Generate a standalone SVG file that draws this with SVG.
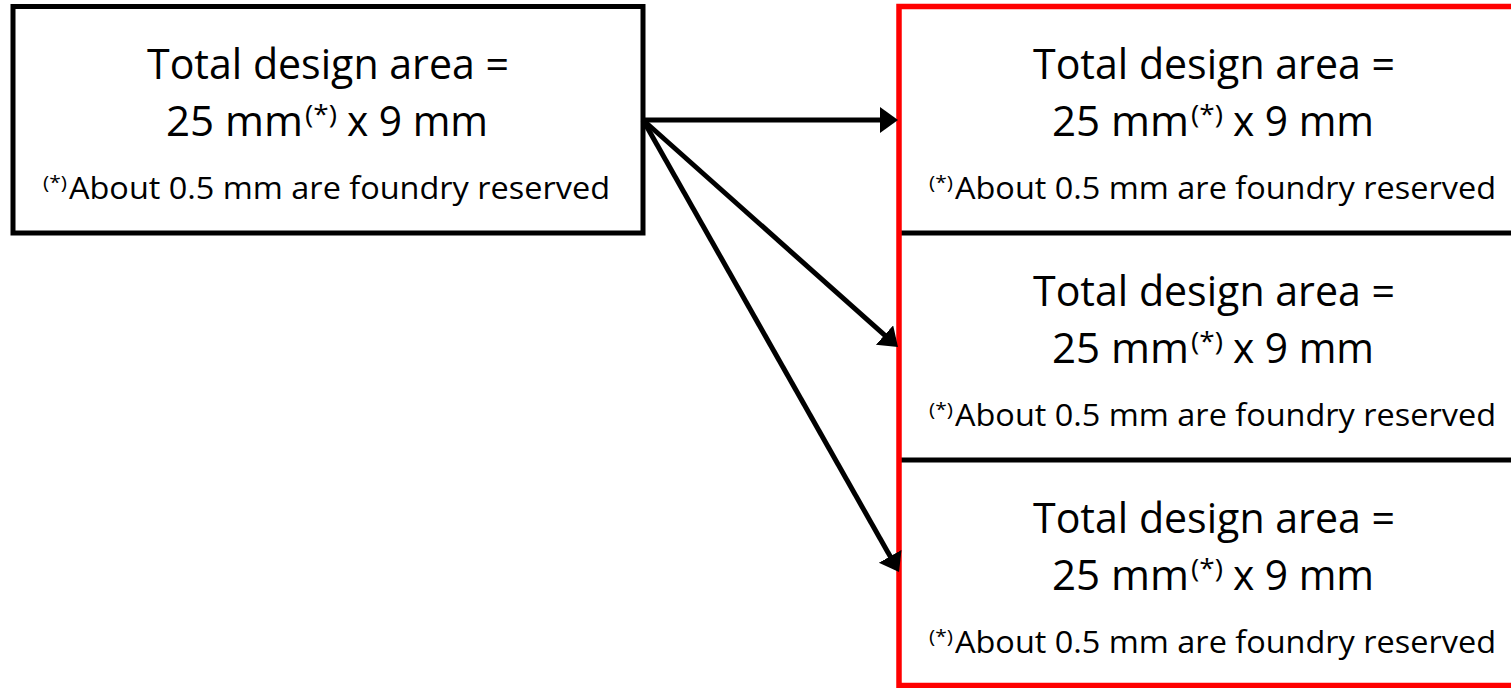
<svg xmlns="http://www.w3.org/2000/svg" width="1511" height="688" viewBox="0 0 1511 688">
  <style>
    .t { font-family: "Open Sans", "Noto Sans", "Liberation Sans", sans-serif; fill: #000; }
    .big { font-size: 42px; }
    .sup { font-size: 25px; }
    .foot { font-size: 31px; }
    .fsup { font-size: 19px; }
    .box { fill: #fff; stroke: #000; stroke-width: 5; }
    .conn { stroke: #000; stroke-width: 5; fill: none; marker-end: url(#arrow); }
    .divider { stroke: #000; stroke-width: 5; }
    .frame { fill: none; stroke: #FF0000; stroke-width: 5.5; }
  </style>
  <defs>
    <marker id="arrow" markerUnits="userSpaceOnUse" markerWidth="20" markerHeight="28" refX="8" refY="13" orient="auto">
      <path d="M0,0 L18,13 L0,26 z" fill="#000"/>
    </marker>
    <g id="label">
      <text class="t big" x="147" y="79" textLength="362" lengthAdjust="spacingAndGlyphs">Total design area =</text>
      <text class="t big" x="166" y="136" textLength="137" lengthAdjust="spacingAndGlyphs">25 mm</text>
      <text class="t sup" x="305" y="123" textLength="32" lengthAdjust="spacingAndGlyphs">(*)</text>
      <text class="t big" x="347" y="136" textLength="141" lengthAdjust="spacingAndGlyphs">x 9 mm</text>
      <text class="t fsup" x="43" y="189" textLength="24" lengthAdjust="spacingAndGlyphs">(*)</text>
      <text class="t foot" x="69" y="199" textLength="541" lengthAdjust="spacingAndGlyphs">About 0.5 mm are foundry reserved</text>
    </g>
  </defs>

  <g id="source-box">
    <rect class="box" x="13" y="6.5" width="630" height="226.5"/>
    <use href="#label"/>
  </g>

  <g id="target-panel-1">
    <use href="#label" transform="translate(886,0)"/>
  </g>
  <g id="target-panel-2">
    <line class="divider" x1="899" y1="233" x2="1511" y2="233"/>
    <use href="#label" transform="translate(886,227)"/>
  </g>
  <g id="target-panel-3">
    <line class="divider" x1="899" y1="460" x2="1511" y2="460"/>
    <use href="#label" transform="translate(886,454)"/>
  </g>
  <g id="target-frame">
    <rect class="frame" x="899" y="6.5" width="620" height="679"/>
  </g>

  <g id="connectors">
    <line class="conn" x1="643" y1="120" x2="888" y2="120"/>
    <line class="conn" x1="643" y1="120" x2="890.5" y2="340.4"/>
    <line class="conn" x1="643" y1="120" x2="894.1" y2="563.3"/>
  </g>
</svg>
